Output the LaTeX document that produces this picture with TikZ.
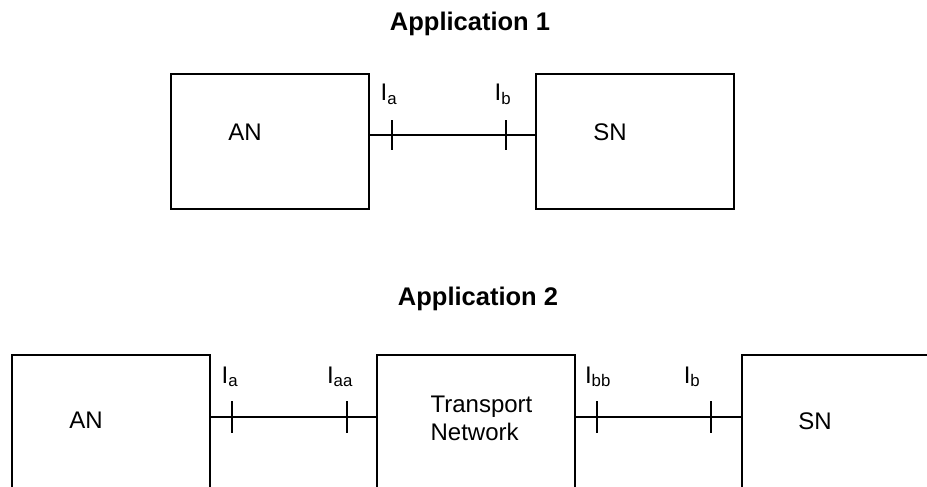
\documentclass[tikz,border=0pt]{standalone}
\usepackage{fontspec}
\setmainfont{Liberation Sans}
\begin{document}
\begin{tikzpicture}[x=1pt,y=-1pt,line width=1.2pt,
    box/.style={draw, minimum width=198pt},
    txt/.style={inner sep=0pt, anchor=base, font=\fontsize{24}{28}\selectfont},
    ttl/.style={txt, font=\fontsize{25.5}{30}\selectfont\bfseries}]
    \clip (0,0) rectangle (927,487);

    % Application 1
    \node[ttl] (title1) at (470,31) {Application 1};
    \node[box, minimum height=135pt] (an1) at (270,141.5) {};
    \node[box, minimum height=135pt] (sn1) at (635,141.5) {};
    \node[txt] (antext1) at (245,140) {AN};
    \node[txt] (sntext1) at (610,140) {SN};
    \coordinate (ia1) at (392,135);
    \coordinate (ib1) at (506,135);
    \draw (an1.east |- ia1) -- (sn1.west |- ia1);
    \draw ([yshift=15pt]ia1) -- ([yshift=-15pt]ia1);
    \draw ([yshift=15pt]ib1) -- ([yshift=-15pt]ib1);
    \node[txt] (la1) at (389,101) {I\textsubscript{a}};
    \node[txt] (lb1) at (503,101) {I\textsubscript{b}};

    % Application 2
    \node[ttl] (title2) at (478,305) {Application 2};
    \node[box, minimum height=245pt] (an2) at (111,477.5) {};
    \node[box, minimum height=245pt] (tn) at (476,477.5) {};
    \node[box, minimum height=245pt] (sn2) at (841,477.5) {};
    \node[txt] (antext2) at (86,428) {AN};
    \node[txt, anchor=west, align=left] (tntext) at (430,418) {Transport\\Network};
    \node[txt] (sntext2) at (815,429) {SN};
    \coordinate (ia2) at (232,417);
    \coordinate (iaa) at (347,417);
    \coordinate (ibb) at (597,417);
    \coordinate (ib2) at (711,417);
    \draw (an2.east |- ia2) -- (tn.west |- ia2);
    \draw (tn.east |- ibb) -- (sn2.west |- ibb);
    \draw ([yshift=16pt]ia2) -- ([yshift=-16pt]ia2);
    \draw ([yshift=16pt]iaa) -- ([yshift=-16pt]iaa);
    \draw ([yshift=16pt]ibb) -- ([yshift=-16pt]ibb);
    \draw ([yshift=16pt]ib2) -- ([yshift=-16pt]ib2);
    \node[txt] (la2) at (230,383) {I\textsubscript{a}};
    \node[txt] (laa) at (340,383) {I\textsubscript{aa}};
    \node[txt] (lbb) at (598,383) {I\textsubscript{bb}};
    \node[txt] (lb2) at (692,383) {I\textsubscript{b}};
\end{tikzpicture}
\end{document}
